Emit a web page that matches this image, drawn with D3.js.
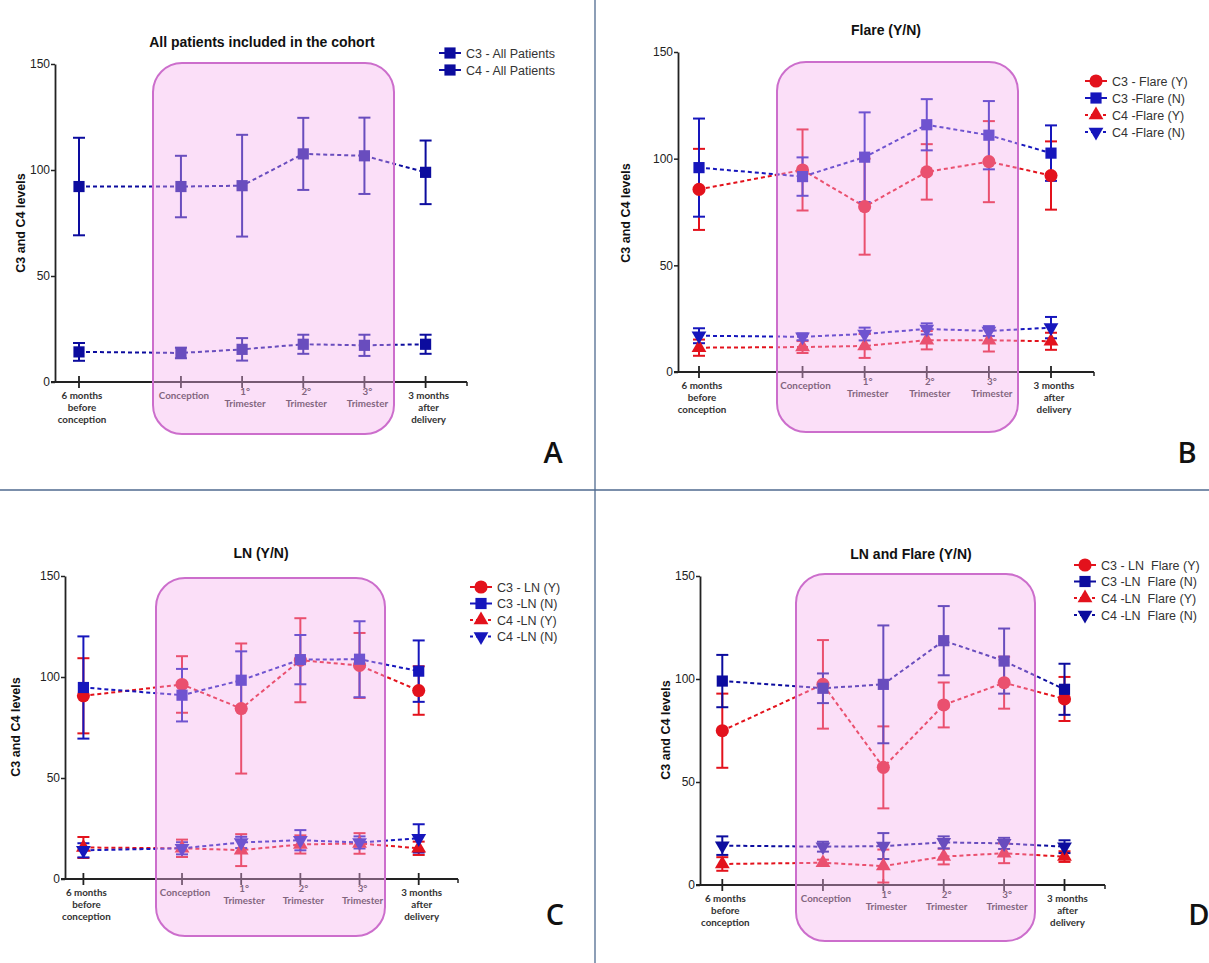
<!DOCTYPE html>
<html><head><meta charset="utf-8">
<script src="https://cdn.jsdelivr.net/npm/d3@7"></script>
<style>body{margin:0;background:#fff} svg{display:block}</style>
</head><body><svg id="chart" width="1209" height="963"></svg>
<script>
// ---------- data ----------
const categories = [["6 months","before","conception"],["Conception"],["1°","Trimester"],["2°","Trimester"],["3°","Trimester"],["3 months","after","delivery"]];
const timeMonths = [-5, 0, 3, 6, 9, 12];
const yTicks = [0, 50, 100, 150];

// Panel A
const aTitle = "All patients included in the cohort";
const aLabels = ["C3 - All Patients", "C4 - All Patients"];
const aC3 = [92.2, 92.2, 92.6, 107.6, 106.7, 98.9];
const aC3Sd = [23, 14.5, 24, 17, 18, 15];
const aC4 = [14.2, 13.7, 15.4, 17.8, 17.3, 17.8];
const aC4Sd = [4.2, 2.5, 5.3, 4.5, 5, 4.5];

// Panel B
const bTitle = "Flare (Y/N)";
const bLabels = ["C3 - Flare (Y)", "C3 -Flare (N)", "C4 -Flare (Y)", "C4 -Flare (N)"];
const bC3Y = [85.6, 94.7, 77.5, 93.8, 98.6, 92.1];
const bC3YSd = [19, 19, 22.5, 13, 19, 16];
const bC3N = [95.8, 91.6, 100.7, 115.9, 111, 102.6];
const bC3NSd = [23, 9, 21, 12, 16, 13];
const bC4Y = [11.4, 11.7, 12.2, 14.9, 14.9, 14.4];
const bC4YSd = [3.8, 2.8, 5.6, 4.3, 5.3, 4];
const bC4N = [17, 16.5, 17.8, 20.2, 19.2, 20.8];
const bC4NSd = [3.5, 1.6, 3, 2.6, 2.3, 5];

// Panel C
const cTitle = "LN (Y/N)";
const cLabels = ["C3 - LN (Y)", "C3 -LN (N)", "C4 -LN (Y)", "C4 -LN (N)"];
const cC3Y = [90.7, 96.3, 84.4, 108.3, 105.7, 93.3];
const cC3YSd = [18.6, 14, 32.2, 20.8, 16.1, 12];
const cC3N = [94.8, 91, 98.4, 108.6, 108.8, 102.9];
const cC3NSd = [25.3, 13, 14.3, 12.2, 18.8, 15.2];
const cC4Y = [15.6, 15.2, 14.3, 17.1, 17.6, 15.2];
const cC4YSd = [5.2, 4.3, 7.9, 4.5, 5.1, 3.3];
const cC4N = [14.2, 15.2, 18.1, 19.2, 18.1, 20.1];
const cC4NSd = [3.5, 3, 2.8, 5, 3, 7];

// Panel D
const dTitle = "LN and Flare (Y/N)";
const dLabels = ["C3 - LN  Flare (Y)", "C3 -LN  Flare (N)", "C4 -LN  Flare (Y)", "C4 -LN  Flare (N)"];
const dC3Y = [74.9, 97.4, 57.1, 87.4, 98.2, 90.3];
const dC3YSd = [18, 21.5, 19.9, 10.9, 12.6, 10.7];
const dC3N = [99, 95.5, 97.4, 118.6, 108.7, 95];
const dC3NSd = [12.7, 7.2, 28.6, 16.8, 15.8, 12.4];
const dC4Y = [10.2, 10.8, 9.2, 13.8, 15.4, 13.8];
const dC4YSd = [3.3, 1.5, 8, 3.8, 4.8, 2.6];
const dC4N = [19.1, 18.6, 18.9, 20.7, 20.2, 18.6];
const dC4NSd = [4.5, 2.4, 6.3, 2.9, 2.7, 3.1];

const panelLetters = ["A", "B", "C", "D"];

// ---------- styles ----------
const NAVY = "#0c0c9e", BLUE = "#1616bc", RED = "#e3121c";

const svg = d3.select("#chart");
svg.append("rect").attr("width", 1209).attr("height", 963).attr("fill", "#fff");

const panels = [
  { title: aTitle, letter: panelLetters[0],
    ax: 55, axEnd: 467, x0: 79, x1: 425.6, y0: 382, y150: 64,
    rect: [153, 63, 394, 434], titlePos: [262, 47], legX: 450, legY: [53, 70],
    yLab: [21, 223], letterPos: [553, 463],
    series: [
      { m: aC3, sd: aC3Sd, color: NAVY, shape: "square", label: aLabels[0], dash: false },
      { m: aC4, sd: aC4Sd, color: NAVY, shape: "square", label: aLabels[1], dash: false } ] },
  { title: bTitle, letter: panelLetters[1],
    ax: 678, axEnd: 1094, x0: 699, x1: 1051, y0: 372, y150: 52,
    rect: [777, 62, 1018, 432], titlePos: [886, 35], legX: 1096, legY: [81, 98, 115, 132],
    yLab: [626, 213], letterPos: [1187, 463],
    series: [
      { m: bC3Y, sd: bC3YSd, color: RED, shape: "circle", label: bLabels[0], dash: false },
      { m: bC3N, sd: bC3NSd, color: BLUE, shape: "square", label: bLabels[1], dash: false },
      { m: bC4Y, sd: bC4YSd, color: RED, shape: "triangle", label: bLabels[2], dash: true },
      { m: bC4N, sd: bC4NSd, color: BLUE, shape: "triangleDown", label: bLabels[3], dash: true } ] },
  { title: cTitle, letter: panelLetters[2],
    ax: 65, axEnd: 458, x0: 83.4, x1: 418.7, y0: 879, y150: 576,
    rect: [156, 578, 385, 936], titlePos: [261, 558], legX: 481, legY: [587, 603.5, 620, 636.5],
    yLab: [16, 727], letterPos: [555, 925],
    series: [
      { m: cC3Y, sd: cC3YSd, color: RED, shape: "circle", label: cLabels[0], dash: false },
      { m: cC3N, sd: cC3NSd, color: BLUE, shape: "square", label: cLabels[1], dash: false },
      { m: cC4Y, sd: cC4YSd, color: RED, shape: "triangle", label: cLabels[2], dash: true },
      { m: cC4N, sd: cC4NSd, color: BLUE, shape: "triangleDown", label: cLabels[3], dash: true } ] },
  { title: dTitle, letter: panelLetters[3],
    ax: 700, axEnd: 1105, x0: 722.3, x1: 1064.5, y0: 885, y150: 576,
    rect: [796, 574, 1035, 941], titlePos: [911, 559], legX: 1085, legY: [565, 581.5, 598, 615],
    yLab: [666, 730], letterPos: [1199, 925],
    series: [
      { m: dC3Y, sd: dC3YSd, color: RED, shape: "circle", label: dLabels[0], dash: false },
      { m: dC3N, sd: dC3NSd, color: NAVY, shape: "square", label: dLabels[1], dash: false },
      { m: dC4Y, sd: dC4YSd, color: RED, shape: "triangle", label: dLabels[2], dash: true },
      { m: dC4N, sd: dC4NSd, color: NAVY, shape: "triangleDown", label: dLabels[3], dash: true } ] }
];

const symbolFor = {
  square: d3.symbol().type(d3.symbolSquare).size(125),
  circle: d3.symbol().type(d3.symbolCircle).size(135),
  triangle: d3.symbol().type(d3.symbolTriangle).size(95),
  triangleDown: d3.symbol().type(d3.symbolTriangle).size(95)
};
function marker(sel, shape, color) {
  sel.append("path").attr("d", symbolFor[shape]()).attr("fill", color)
    .attr("transform", shape === "triangleDown" ? "rotate(180)" : null);
}

// separators
svg.append("line").attr("x1", 595).attr("x2", 595).attr("y1", 0).attr("y2", 963)
  .attr("stroke", "#4f6a8f").attr("stroke-width", 1.3);
svg.append("line").attr("x1", 0).attr("x2", 1209).attr("y1", 490).attr("y2", 490)
  .attr("stroke", "#4f6a8f").attr("stroke-width", 1.3);

panels.forEach(p => {
  const g = svg.append("g");
  const x = d3.scaleLinear().domain([timeMonths[0], timeMonths[timeMonths.length - 1]]).range([p.x0, p.x1]);
  const y = d3.scaleLinear().domain([0, 150]).range([p.y0, p.y150]);

  // y axis
  const ya = g.append("g").attr("transform", `translate(${p.ax},0)`)
    .call(d3.axisLeft(y).tickValues(yTicks).tickSize(4).tickSizeOuter(0).tickPadding(1));
  ya.select(".domain").attr("stroke", "#222").attr("stroke-width", 1.8);
  ya.selectAll(".tick line").attr("stroke", "#222").attr("stroke-width", 1.5);
  ya.selectAll(".tick text").attr("font-family", "Liberation Sans, Arial, sans-serif")
    .attr("font-size", 12).attr("font-weight", "normal").attr("fill", "#222");

  // x axis
  g.append("line").attr("x1", p.ax - 4).attr("x2", p.axEnd).attr("y1", y(0)).attr("y2", y(0))
    .attr("stroke", "#222").attr("stroke-width", 1.8);
  g.append("line").attr("x1", p.axEnd).attr("x2", p.axEnd).attr("y1", y(0)).attr("y2", y(0) + 4)
    .attr("stroke", "#222").attr("stroke-width", 1.5);
  const xt = g.selectAll(".xt").data(timeMonths).enter().append("g")
    .attr("transform", d => `translate(${x(d)},${y(0)})`);
  xt.append("line").attr("y1", -6).attr("y2", 6).attr("stroke", "#222").attr("stroke-width", 1.8);
  xt.each(function(d, i) {
    const lines = categories[i];
    const t = d3.select(this).append("text").attr("text-anchor", "middle")
      .attr("font-family", "Lato, 'Open Sans', sans-serif").attr("font-size", 9.8)
      .attr("font-weight", "bold").attr("fill", "#333");
    const startY = lines.length === 2 ? 13 : 17;
    lines.forEach((ln, k) => {
      t.append("tspan").attr("x", 3).attr("y", startY + k * 12).text(ln);
    });
  });

  // dashed connecting lines
  const line = d3.line().x((d, i) => x(timeMonths[i])).y(d => y(d));
  p.series.forEach(s => {
    g.append("path").attr("d", line(s.m)).attr("fill", "none").attr("stroke", s.color)
      .attr("stroke-width", 2).attr("stroke-dasharray", "4,3");
  });
  // error bars
  p.series.forEach(s => {
    const eb = g.selectAll(null).data(s.m).enter().append("g")
      .attr("transform", (d, i) => `translate(${x(timeMonths[i])},0)`);
    eb.append("line").attr("y1", (d, i) => y(d + s.sd[i])).attr("y2", (d, i) => y(d - s.sd[i]))
      .attr("stroke", s.color).attr("stroke-width", 2);
    eb.append("line").attr("x1", -6).attr("x2", 6).attr("y1", (d, i) => y(d + s.sd[i])).attr("y2", (d, i) => y(d + s.sd[i]))
      .attr("stroke", s.color).attr("stroke-width", 2);
    eb.append("line").attr("x1", -6).attr("x2", 6).attr("y1", (d, i) => y(d - s.sd[i])).attr("y2", (d, i) => y(d - s.sd[i]))
      .attr("stroke", s.color).attr("stroke-width", 2);
  });
  // markers
  p.series.forEach(s => {
    g.selectAll(null).data(s.m).enter().append("g")
      .attr("transform", (d, i) => `translate(${x(timeMonths[i])},${y(d)})`)
      .each(function() { marker(d3.select(this), s.shape, s.color); });
  });

  // pregnancy overlay
  g.append("rect").attr("x", p.rect[0]).attr("y", p.rect[1])
    .attr("width", p.rect[2] - p.rect[0]).attr("height", p.rect[3] - p.rect[1])
    .attr("rx", 29).attr("ry", 29)
    .attr("fill", "rgb(245,175,238)").attr("fill-opacity", 0.4)
    .attr("stroke", "rgb(204,110,204)").attr("stroke-width", 2);

  // title
  g.append("text").attr("x", p.titlePos[0]).attr("y", p.titlePos[1]).attr("text-anchor", "middle")
    .attr("font-family", "Liberation Sans, Arial, sans-serif").attr("font-size", 14)
    .attr("font-weight", "bold").attr("fill", "#111").text(p.title);
  // y label
  g.append("text").attr("transform", `translate(${p.yLab[0]},${p.yLab[1]}) rotate(-90)`)
    .attr("text-anchor", "middle").attr("dy", "0.35em")
    .attr("font-family", "Liberation Sans, Arial, sans-serif").attr("font-size", 12.5)
    .attr("font-weight", "bold").attr("fill", "#111").text("C3 and C4 levels");
  // legend
  p.series.forEach((s, i) => {
    const lg = g.append("g").attr("transform", `translate(${p.legX},${p.legY[i]})`);
    lg.append("line").attr("x1", -11).attr("x2", 11).attr("stroke", s.color).attr("stroke-width", 2)
      .attr("stroke-dasharray", s.dash ? "3,3" : null);
    marker(lg, s.shape, s.color);
    lg.append("text").attr("x", 16).attr("dy", "0.36em").style("white-space", "pre")
      .attr("font-family", "Liberation Sans, Arial, sans-serif").attr("font-size", 12.5)
      .attr("fill", "#333").text(s.label);
  });
  // panel letter
  g.append("text").attr("x", p.letterPos[0]).attr("y", p.letterPos[1]).attr("text-anchor", "middle")
    .attr("font-family", "'Open Sans', sans-serif").attr("font-size", 29).attr("font-weight", 600)
    .attr("fill", "#111").text(p.letter);
});
</script></body></html>
